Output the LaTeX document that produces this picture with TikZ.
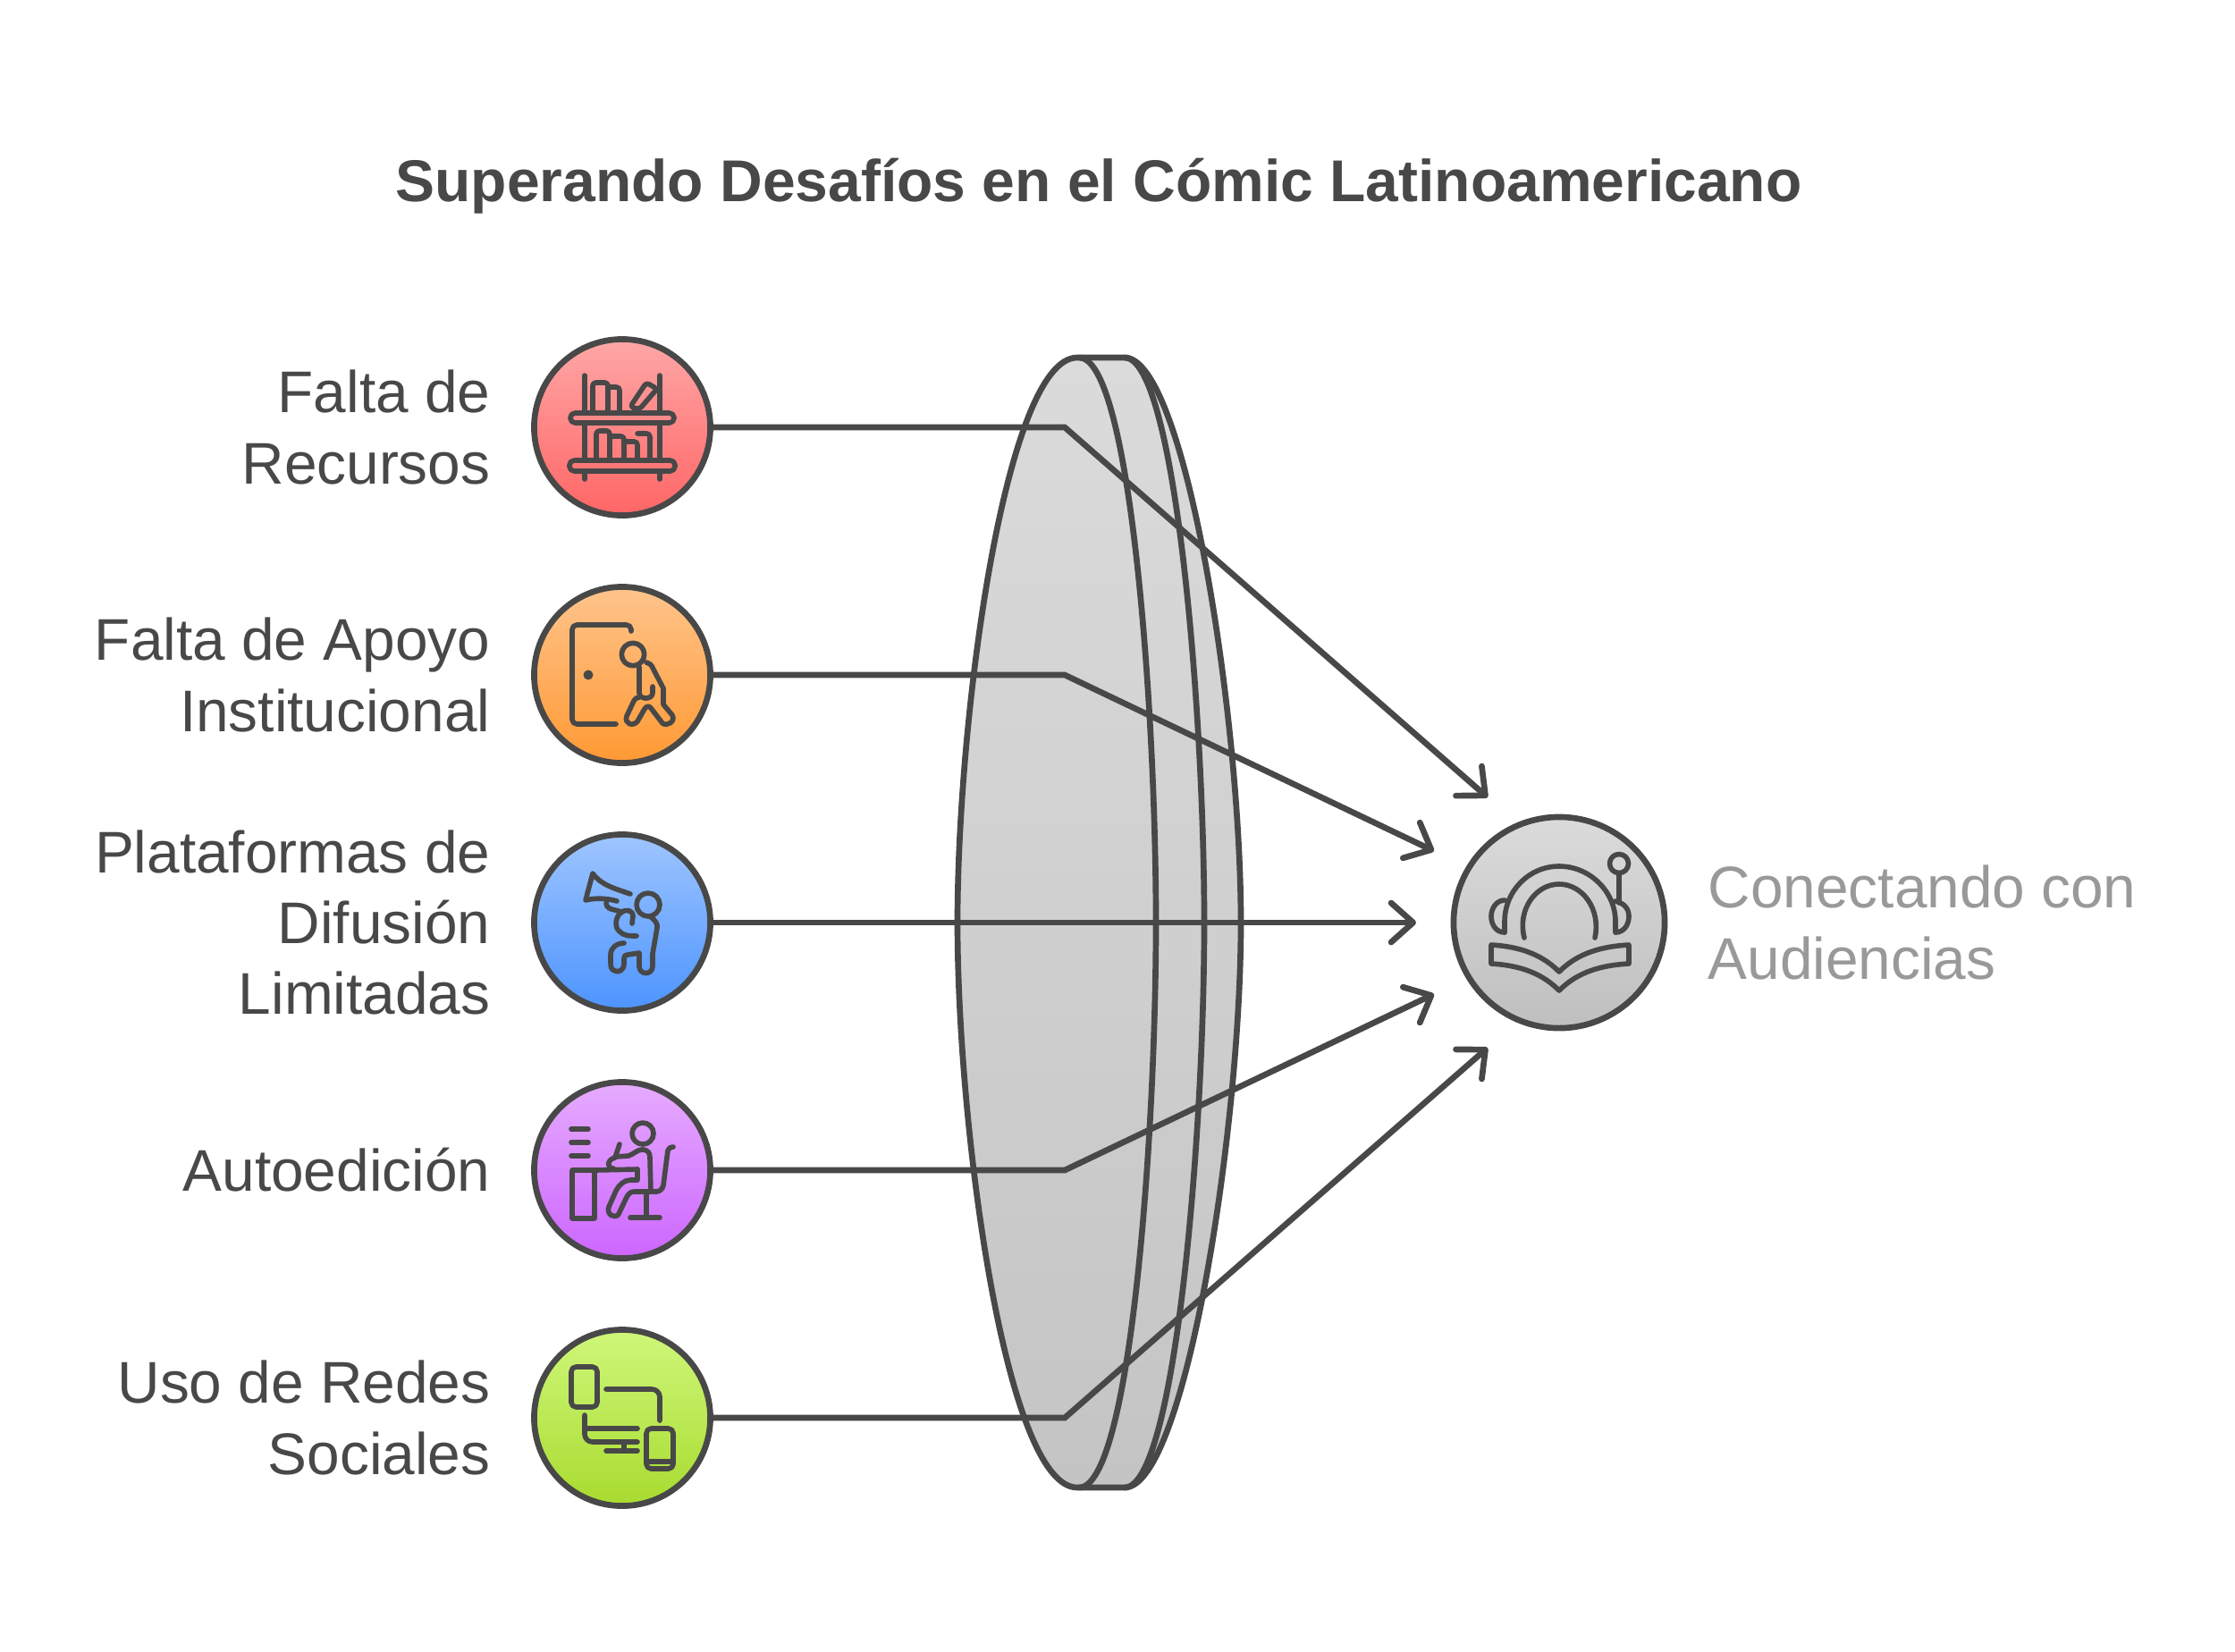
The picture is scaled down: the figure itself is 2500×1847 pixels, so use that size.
\documentclass[tikz,border=0pt]{standalone}
\usepackage{fontspec}
\usepackage{xcolor}
\usetikzlibrary{arrows.meta}
\setmainfont{Liberation Sans}
\definecolor{ink}{HTML}{484848}
\definecolor{soft}{HTML}{999999}
\definecolor{lensa}{HTML}{DBDBDB}
\definecolor{lensb}{HTML}{C4C4C4}
\definecolor{bubgrisb}{HTML}{BFBFBF}
\definecolor{bubrojoa}{HTML}{FFA6A6}
\definecolor{bubrojob}{HTML}{FF6666}
\definecolor{bubnara}{HTML}{FFC48C}
\definecolor{bubnarb}{HTML}{FF9933}
\definecolor{bubazula}{HTML}{9EC5FF}
\definecolor{bubazulb}{HTML}{4D94FF}
\definecolor{bubmora}{HTML}{E6ABFF}
\definecolor{bubmorb}{HTML}{CC66FF}
\definecolor{bubvera}{HTML}{CFF77A}
\definecolor{bubverb}{HTML}{A8DB2F}
\tikzset{
  bubble/.style 2 args={draw=ink, circle, line width=1.9pt, inner sep=0pt, minimum size=1.97cm, top color=#1, bottom color=#2},
  icon/.style={draw=ink, line width=1.6pt, line cap=round, line join=round},
  wire/.style={draw=ink, line width=1.9pt, line cap=round, -{Straight Barb[length=7pt,width=12.5pt,round]}},
  side/.style={font=\fontsize{18.7}{22.5}\selectfont, text=ink, align=right, anchor=east, inner sep=0pt},
}
\begin{document}
\begin{tikzpicture}[x=0.01cm, y=-0.01cm]
\useasboundingbox (0,0) rectangle (2500,1847);
\node[font=\bfseries\fontsize{18.76}{23}\selectfont, text=ink, inner sep=0pt] (titulo) at (1229,208) {Superando Desafíos en el Cómic Latinoamericano};
\draw[draw=ink, line width=1.9pt, line join=round, top color=lensa, bottom color=lensb]
  (1205,400) .. controls (1125,400) and (1071,800) .. (1071,1032)
  .. controls (1071,1264) and (1125,1664) .. (1205,1664) -- (1258,1664)
  .. controls (1325,1664) and (1388,1264) .. (1388,1032)
  .. controls (1388,800) and (1325,400) .. (1258,400) -- cycle;
\draw[draw=ink, line width=1.9pt] (1207,400) .. controls (1265,400) and (1293,800) .. (1293,1032) .. controls (1293,1264) and (1265,1664) .. (1207,1664);
\draw[draw=ink, line width=1.9pt] (1258,400) .. controls (1315,400) and (1347,800) .. (1347,1032) .. controls (1347,1264) and (1315,1664) .. (1258,1664);
\node[bubble={bubrojoa}{bubrojob}] (recursos) at (696,478) {};
\node[bubble={bubnara}{bubnarb}] (apoyo) at (696,755) {};
\node[bubble={bubazula}{bubazulb}] (difusion) at (696,1032) {};
\node[bubble={bubmora}{bubmorb}] (edicion) at (696,1309) {};
\node[bubble={bubvera}{bubverb}] (redes) at (696,1586) {};
\node[bubble={lensa}{bubgrisb}, minimum size=2.36cm] (audiencias) at (1744,1032) {};
\coordinate (codoA) at (1191,478);
\coordinate (codoB) at (1191,755);
\coordinate (codoD) at (1191,1309);
\coordinate (codoE) at (1191,1586);
\coordinate (puntaA) at (1664,892);
\coordinate (puntaB) at (1604,952);
\coordinate (puntaC) at (1584,1032);
\coordinate (puntaD) at (1604,1112);
\coordinate (puntaE) at (1664,1172);
\draw[wire] (recursos) -- (codoA) -- (puntaA);
\draw[wire] (apoyo) -- (codoB) -- (puntaB);
\draw[wire] (difusion) -- (puntaC);
\draw[wire] (edicion) -- (codoD) -- (puntaD);
\draw[wire] (redes) -- (codoE) -- (puntaE);
\node[side] (lblrecursos) at (549,478) {Falta de\\Recursos};
\node[side] (lblapoyo) at (549,755) {Falta de Apoyo\\Institucional};
\node[side] (lbldifusion) at (549,1032) {Plataformas de\\Difusión\\Limitadas};
\node[side] (lbledicion) at (549,1309) {Autoedición};
\node[side] (lblredes) at (549,1586) {Uso de Redes\\Sociales};
\node[side, text=soft, align=left, anchor=west] (lblaudiencias) at (1910,1032) {Conectando con\\Audiencias};
\begin{scope}[shift={(696,478)}]
\draw[icon] (-42,-58) -- (-42,-16) (42,-58) -- (42,-16) (-42,-5) -- (-42,37) (42,-5) -- (42,37) (-42,49) -- (-42,58) (42,49) -- (42,58);
\draw[icon, rounded corners=1.5pt] (-58,-16) rectangle (58,-5) (-59,37) rectangle (59,49);
\draw[icon, rounded corners=1pt] (-33,-16) -- (-33,-50) -- (-16,-50) -- (-16,-16) (-16,-45) -- (-3,-45) -- (-3,-16);
\draw[icon, rounded corners=1pt] (9,-23) -- (27,-50) -- (39,-43) -- (19,-20) -- cycle;
\draw[icon, rounded corners=1pt] (-29,37) -- (-29,4) -- (-14,4) -- (-14,37) (-14,10) -- (2,10) -- (2,37) (2,16) -- (17,16) -- (17,37) (17,7) -- (31,7) -- (31,37);
\end{scope}
\begin{scope}[shift={(696,755)}]
\draw[icon, rounded corners=1.5pt] (10,-49) -- (10,-56) -- (-56,-56) -- (-56,55) -- (-7,55);
\fill[ink] (-38,0) circle[radius=5.5];
\draw[icon] (12,-23) circle[radius=12.7];
\draw[icon] (19,-9) -- (19,20) .. controls (19,28) and (34,28) .. (34,20) -- (34,13);
\draw[icon] (27,-14) .. controls (30,-13) and (32,-12) .. (33,-10) -- (46,15) -- (46,33) -- (56,45) .. controls (60,52) and (50,58) .. (45,54) -- (32,37) .. controls (30,34) and (27,35) .. (25,38) -- (17,52) .. controls (12,58) and (2,55) .. (5,46) -- (13,29) .. controls (15,26) and (17,25) .. (19,25);
\end{scope}
\begin{scope}[shift={(696,1032)}]
\draw[icon] (9,-32) .. controls (-8,-38) and (-24,-42) .. (-33,-55) -- (-41,-25) .. controls (-30,-28) and (-16,-27) .. (-6,-24);
\draw[icon] (29,-20) circle[radius=13];
\draw[icon] (-18,-22) .. controls (-18,-17) and (-14,-15) .. (-8,-14) -- (-1,-12) .. controls (5,-15) and (12,-14) .. (12,-7) -- (11,1);
\draw[icon] (0,-12) .. controls (-8,-8) and (-9,6) .. (-3,10) .. controls (2,15) and (8,15) .. (16,15);
\draw[icon] (31,-7) .. controls (37,-3) and (40,2) .. (39,6) -- (34,35) -- (34,49) .. controls (34,59) and (19,59) .. (19,49) -- (19,34) -- (6,36) .. controls (2,37) and (2,38) .. (2,41) -- (2,46) .. controls (2,54) and (-5,56) .. (-8,54) .. controls (-12,53) and (-13,50) .. (-13,45) -- (-13,36) .. controls (-13,28) and (-6,23) .. (2,23);
\end{scope}
\begin{scope}[shift={(696,1309)}]
\draw[icon] (-57,-46) -- (-38,-46) (-57,-31) -- (-38,-31) (-57,-16) -- (-38,-16);
\draw[icon] (-56,0) rectangle (-31,54) (-31,0) -- (17,-1);
\draw[icon] (23,-41) circle[radius=12];
\draw[icon] (-3,-29) -- (-8,-14) .. controls (-17,-12) and (-18,-2) .. (-10,-2);
\draw[icon] (-8,-15) -- (7,-16) .. controls (13,-18) and (17,-23) .. (22,-23) .. controls (29,-23) and (31,-19) .. (31,-14) -- (32,24);
\draw[icon] (17,-1) -- (17,11) -- (9,11) .. controls (2,11) and (-4,17) .. (-7,23) -- (-15,41) .. controls (-18,50) and (-8,55) .. (-4,49) -- (5,30) .. controls (8,25) and (10,24) .. (14,24) -- (38,24) .. controls (42,24) and (45,21) .. (46,17) -- (51,-22) .. controls (52,-25) and (54,-26) .. (57,-26);
\draw[icon] (27,24) -- (27,53) (9,53) -- (42,53);
\end{scope}
\begin{scope}[shift={(696,1586)}]
\draw[icon, rounded corners=1.5pt] (-57,-57) rectangle (-28,-12) (27,12) rectangle (57,57);
\draw[icon] (27,49) -- (57,49);
\draw[icon, rounded corners=2.5pt] (-18,-32) -- (42,-32) -- (42,3);
\draw[icon, rounded corners=2.5pt] (-42,-3) -- (-42,27) -- (17,27);
\draw[icon] (-42,12) -- (17,12) (2,27) -- (2,37) (-18,37) -- (17,37);
\end{scope}
\begin{scope}[shift={(1744,1032)}]
\draw[icon] (-61,11) -- (-61,-1) .. controls (-61,-35) and (-34,-63) .. (0,-63) .. controls (34,-63) and (63,-35) .. (63,-1) -- (63,11);
\draw[icon] (-61,-25) .. controls (-70,-25) and (-76,-16) .. (-76,-7) .. controls (-76,3) and (-70,11) .. (-61,11);
\draw[icon] (63,-24) .. controls (72,-22) and (78,-16) .. (78,-7) .. controls (78,3) and (72,11) .. (63,11);
\draw[icon] (-39,17) .. controls (-47,-15) and (-26,-43) .. (0,-43) .. controls (26,-43) and (47,-15) .. (40,17);
\draw[icon] (67,-66) circle[radius=10.5] (67,-55) -- (67,-22);
\draw[icon] (-76,25) .. controls (-40,27) and (-17,38) .. (0,55) .. controls (17,38) and (40,27) .. (78,25) -- (78,46) .. controls (40,48) and (17,59) .. (0,76) .. controls (-17,59) and (-40,48) .. (-76,46) -- cycle;
\end{scope}
\end{tikzpicture}
\end{document}
